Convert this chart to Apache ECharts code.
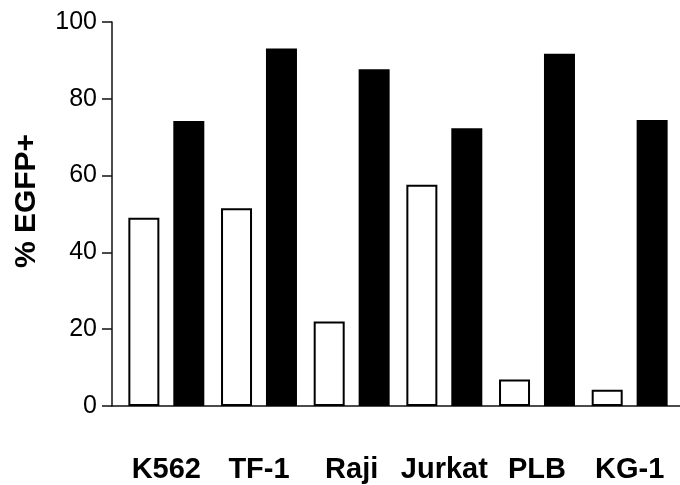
<!DOCTYPE html>
<html>
<head>
<meta charset="utf-8">
<script src="https://cdn.jsdelivr.net/npm/echarts@6/dist/echarts.min.js"></script>
<style>
html,body{margin:0;padding:0;background:#fff;}
#chart{width:680px;height:485px;}
</style>
</head>
<body>
<div id="chart"></div>
<script>
var categories = ['K562', 'TF-1', 'Raji', 'Jurkat', 'PLB', 'KG-1'];
var openValues = [49.0, 51.5, 22.0, 57.6, 6.9, 4.2];
var filledValues = [74.2, 93.1, 87.7, 72.3, 91.7, 74.5];
var yTicks = [0, 20, 40, 60, 80, 100];

var chart = echarts.init(document.getElementById('chart'), null, {renderer: 'canvas'});
var font = 'Liberation Sans, Arial, Helvetica, sans-serif';
chart.setOption({
  animation: false,
  backgroundColor: '#fff',
  grid: [
    {left: 120, right: 4, top: 22, bottom: 79},
    {left: 112, right: 0, top: 22, bottom: 79}
  ],
  xAxis: [{
    type: 'category',
    data: categories,
    gridIndex: 0,
    axisLine: {show: false},
    axisTick: {show: false},
    axisLabel: {
      interval: 0,
      hideOverlap: false,
      margin: 49,
      fontFamily: font,
      fontWeight: 'bold',
      fontSize: 29,
      color: '#000'
    }
  }, {
    type: 'value',
    gridIndex: 1,
    min: 0, max: 1,
    axisLine: {show: true, lineStyle: {color: '#111', width: 1.5}},
    axisTick: {show: false},
    axisLabel: {show: false},
    splitLine: {show: false}
  }],
  yAxis: [{
    type: 'value',
    gridIndex: 0,
    min: yTicks[0],
    max: yTicks[yTicks.length - 1],
    interval: 20,
    offset: 8,
    name: '% EGFP+',
    nameLocation: 'middle',
    nameGap: 70,
    nameRotate: 90,
    nameTextStyle: {
      fontFamily: font,
      fontWeight: 'bold',
      fontSize: 30,
      color: '#000',
      padding: [0, 0, 0, 26]
    },
    axisLine: {show: true, lineStyle: {color: '#111', width: 1.5}},
    axisTick: {show: true, length: 10, lineStyle: {color: '#111', width: 1.5}},
    axisLabel: {
      margin: 15,
      fontFamily: font,
      fontSize: 25,
      color: '#000'
    },
    splitLine: {show: false}
  }, {
    type: 'value',
    gridIndex: 1,
    show: false
  }],
  series: [{
    type: 'bar',
    name: 'open',
    data: openValues,
    barWidth: 31,
    barGap: '45%',
    itemStyle: {color: '#fff', borderColor: '#000', borderWidth: 2}
  }, {
    type: 'bar',
    name: 'filled',
    data: filledValues,
    barWidth: 31,
    barGap: '45%',
    itemStyle: {color: '#000'}
  }]
});
</script>
</body>
</html>
